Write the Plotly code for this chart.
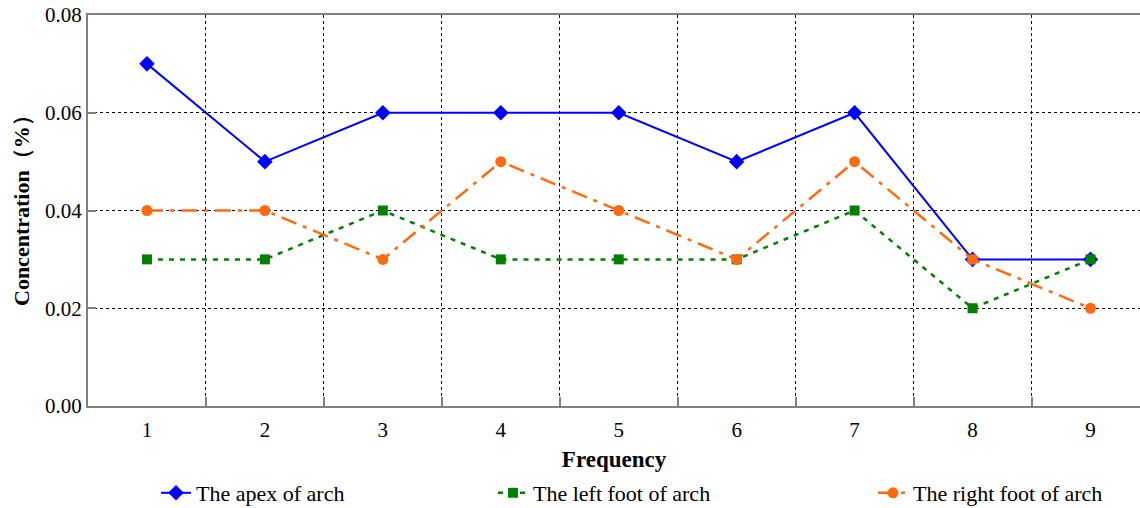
import plotly.graph_objects as go

frequency = ["1", "2", "3", "4", "5", "6", "7", "8", "9"]
apex = [0.07, 0.05, 0.06, 0.06, 0.06, 0.05, 0.06, 0.03, 0.03]
left_foot = [0.03, 0.03, 0.04, 0.03, 0.03, 0.03, 0.04, 0.02, 0.03]
right_foot = [0.04, 0.04, 0.03, 0.05, 0.04, 0.03, 0.05, 0.03, 0.02]
y_ticks = [0.00, 0.02, 0.04, 0.06, 0.08]

FONT = "Liberation Serif, Times New Roman, serif"

fig = go.Figure()
fig.add_trace(go.Scatter(
    x=frequency, y=apex, name="The apex of arch", mode="lines+markers",
    line=dict(color="#0000FF", width=2, dash="solid"),
    marker=dict(symbol="diamond", size=12, color="#0000FF"),
    legend="legend"))
fig.add_trace(go.Scatter(
    x=frequency, y=left_foot, name="The left foot of arch", mode="lines+markers",
    line=dict(color="#007F00", width=2.5, dash="5px,6px"),
    marker=dict(symbol="square", size=10, color="#007F00"),
    legend="legend2"))
fig.add_trace(go.Scatter(
    x=frequency, y=right_foot, name="The right foot of arch", mode="lines+markers",
    line=dict(color="#FF6A10", width=2.5, dash="16px,7px,4px,7px"),
    marker=dict(symbol="circle", size=11, color="#FF6A10"),
    legend="legend3"))

leg_common = dict(orientation="h", yref="container", yanchor="middle", y=1 - 493 / 508,
                  xanchor="left",
                  font=dict(family=FONT, size=22, color="black"),
                  bgcolor="rgba(0,0,0,0)", borderwidth=0)

fig.update_layout(
    width=1140, height=508,
    margin=dict(l=88, r=0, t=15, b=102, autoexpand=False),
    paper_bgcolor="white", plot_bgcolor="white",
    font=dict(family=FONT, size=21, color="black"),
    showlegend=True,
    legend=dict(x=(156 - 88) / 1052, **leg_common),
    legend2=dict(x=(493 - 88) / 1052, **leg_common),
    legend3=dict(x=(873 - 88) / 1052, **leg_common),
    xaxis=dict(
        type="category", range=[-0.5, 8.42], tickson="boundaries",
        showgrid=True, gridcolor="black", griddash="dot", gridwidth=1,
        showline=True, mirror=True, linecolor="#808080", linewidth=2,
        ticks="inside", ticklen=9, tickwidth=2, tickcolor="#808080",
        tickfont=dict(family=FONT, size=21, color="black"),
        ticklabelstandoff=4,
        title=dict(text="<b>Frequency</b>", font=dict(family=FONT, size=23, color="black"), standoff=20),
        zeroline=False,
    ),
    yaxis=dict(
        range=[0, 0.08], tickvals=y_ticks, tickformat=".2f",
        showgrid=True, gridcolor="black", griddash="dot", gridwidth=1,
        showline=True, mirror=False, linecolor="#808080", linewidth=2,
        ticks="inside", ticklen=8, tickwidth=2, tickcolor="#808080",
        tickfont=dict(family=FONT, size=21, color="black"),
        zeroline=False,
    ),
    annotations=[dict(
        text="<b>Concentration（%）</b>", textangle=-90, showarrow=False,
        xref="paper", yref="paper", x=(21 - 88) / 1052, y=(406 - 205) / 391,
        xanchor="center", yanchor="middle",
        font=dict(family=FONT, size=22, color="black"),
    )],
)

fig.write_html("out.html")
